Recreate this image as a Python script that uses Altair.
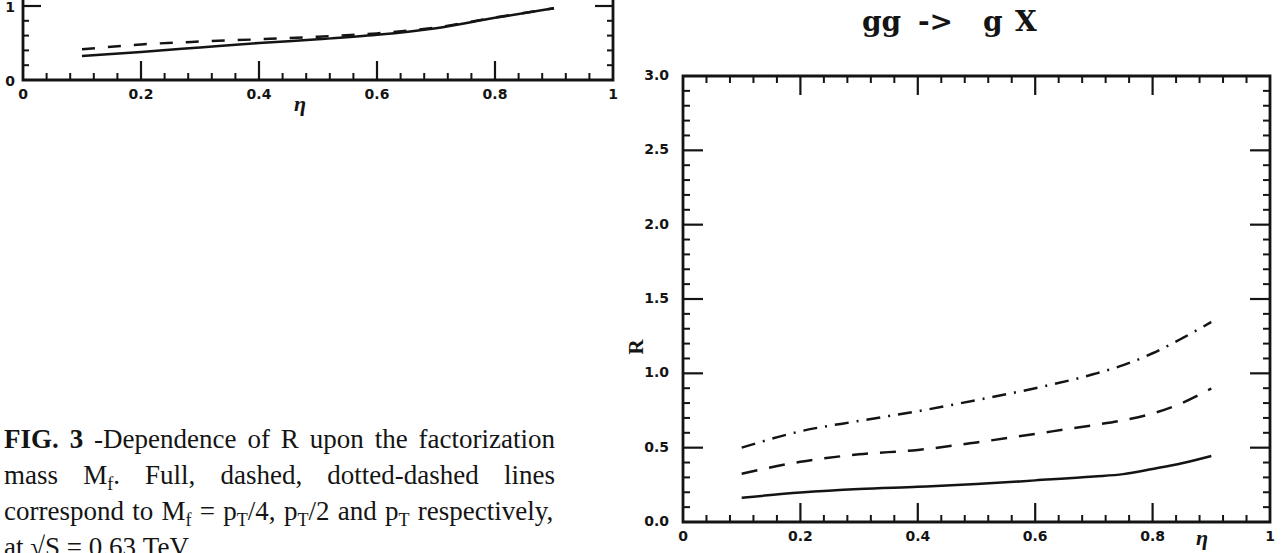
import altair as alt
import pandas as pd

# ---------------- values ----------------
# right panel  (gg -> g X):  R versus eta for three factorization masses
eta_main = [0.1, 0.2, 0.3, 0.4, 0.5, 0.6, 0.7, 0.75, 0.8, 0.85, 0.9]
r_full = [0.163, 0.198, 0.222, 0.237, 0.255, 0.280, 0.306, 0.322, 0.357, 0.395, 0.444]
r_dashed = [0.325, 0.405, 0.455, 0.485, 0.535, 0.593, 0.652, 0.685, 0.730, 0.800, 0.898]
r_dotdash = [0.500, 0.610, 0.680, 0.745, 0.820, 0.900, 0.995, 1.055, 1.135, 1.235, 1.345]

# upper-left panel (only its lower part is visible)
eta_prev = [0.1, 0.2, 0.3, 0.4, 0.5, 0.6, 0.7, 0.8, 0.9]
prev_full = [0.325, 0.38, 0.44, 0.50, 0.55, 0.61, 0.70, 0.84, 0.97]
prev_dashed = [0.415, 0.48, 0.52, 0.55, 0.585, 0.63, 0.71, 0.845, 0.97]

# ticks and tick labels
x_major = [0.0, 0.2, 0.4, 0.6, 0.8, 1.0]
x_labels = ["0", "0.2", "0.4", "0.6", "0.8", "1"]
x_minor = [0.04, 0.08, 0.12, 0.16, 0.24, 0.28, 0.32, 0.36, 0.44, 0.48, 0.52, 0.56,
           0.64, 0.68, 0.72, 0.76, 0.84, 0.88, 0.92, 0.96]
main_y_major = [0.5, 1.0, 1.5, 2.0, 2.5]
main_y_minor = [0.1, 0.2, 0.3, 0.4, 0.6, 0.7, 0.8, 0.9, 1.1, 1.2, 1.3, 1.4, 1.6, 1.7,
                1.8, 1.9, 2.1, 2.2, 2.3, 2.4, 2.6, 2.7, 2.8, 2.9]
main_y_label_vals = [0.0, 0.5, 1.0, 1.5, 2.0, 2.5, 3.0]
main_y_labels = ["0.0", "0.5", "1.0", "1.5", "2.0", "2.5", "3.0"]
prev_y_major = [1.0]
prev_y_minor = [0.2, 0.4, 0.6, 0.8]
prev_y_label_vals = [0.0, 1.0]
prev_y_labels = ["0", "1"]

title_parts = ["gg", "->", "g", "X"]

caption_lines = [
    [[("FIG.", "b")], [("3", "b")], [("-Dependence", "n")], [("of", "n")], [("R", "n")],
     [("upon", "n")], [("the", "n")], [("factorization", "n")]],
    [[("mass", "n")], [("M", "n"), ("f", "s"), (".", "n")], [("Full,", "n")], [("dashed,", "n")],
     [("dotted-dashed", "n")], [("lines", "n")]],
    [[("correspond", "n")], [("to", "n")], [("M", "n"), ("f", "s")], [("=", "n")],
     [("p", "n"), ("T", "s"), ("/4,", "n")], [("p", "n"), ("T", "s"), ("/2", "n")], [("and", "n")],
     [("p", "n"), ("T", "s")], [("respectively,", "n")]],
    [[("at", "n")], [("\u221aS", "n")], [("=", "n")], [("0.63", "n")], [("TeV", "n")]],
]

# ---------------- layout (pixels) ----------------
MAIN_XR = [683, 1270]
MAIN_YR = [522, 76]
PREV_XR = [23, 613]
PREV_YR = [80, 6]

INK = "#141414"
TICK_FONT = "DejaVu Sans"
SERIF = "Liberation Serif"


def scale(dom, rng):
    return alt.Scale(domain=dom, range=rng, nice=False, zero=False)


mx = scale([0, 1], MAIN_XR)
my = scale([0, 3], MAIN_YR)
px = scale([0, 1], PREV_XR)
py = scale([0, 1], PREV_YR)

layers = []


def line(xs, ys, xv, yv, dash=None, width=2.5):
    df = pd.DataFrame({"eta": xv, "r": yv})
    kw = dict(color=INK, strokeWidth=width, interpolate="monotone", strokeCap="butt")
    if dash:
        kw["strokeDash"] = dash
    return alt.Chart(df).mark_line(**kw).encode(
        x=alt.X("eta:Q", scale=xs, axis=None),
        y=alt.Y("r:Q", scale=ys, axis=None),
    )


def vticks(vals, xs, y0, length, width=2.0):
    df = pd.DataFrame({"v": vals})
    return alt.Chart(df).mark_rule(color=INK, strokeWidth=width).encode(
        x=alt.X("v:Q", scale=xs, axis=None), y=alt.value(y0), y2=alt.value(y0 + length)
    )


def hticks(vals, ys, x0, length, width=2.0):
    df = pd.DataFrame({"v": vals})
    return alt.Chart(df).mark_rule(color=INK, strokeWidth=width).encode(
        y=alt.Y("v:Q", scale=ys, axis=None), x=alt.value(x0), x2=alt.value(x0 + length)
    )


def frame(xs, ys, x0, x1, y0, y1):
    df = pd.DataFrame({"x0": [x0], "x1": [x1], "y0": [y0], "y1": [y1]})
    return alt.Chart(df).mark_rect(fillOpacity=0, stroke=INK, strokeWidth=2.8).encode(
        x=alt.X("x0:Q", scale=xs, axis=None), x2="x1:Q",
        y=alt.Y("y0:Q", scale=ys, axis=None), y2="y1:Q",
    )


def xlabels(vals, labs, xs, ypix, size=14):
    df = pd.DataFrame({"v": vals, "t": labs})
    return alt.Chart(df).mark_text(font=TICK_FONT, fontWeight="bold", fontSize=size,
                                   color=INK, align="center", baseline="middle").encode(
        x=alt.X("v:Q", scale=xs, axis=None), y=alt.value(ypix), text="t:N")


def ylabels(vals, labs, ys, xpix, size=14, dy=0):
    df = pd.DataFrame({"v": vals, "t": labs})
    return alt.Chart(df).mark_text(font=TICK_FONT, fontWeight="bold", fontSize=size, dy=dy,
                                   color=INK, align="right", baseline="middle").encode(
        y=alt.Y("v:Q", scale=ys, axis=None), x=alt.value(xpix), text="t:N")


def label(text, x, y, size, font=SERIF, weight="bold", style="normal", align="center",
          baseline="middle", angle=0):
    kw = dict(text=text, font=font, fontSize=size, fontWeight=weight, fontStyle=style,
              color=INK, align=align, baseline=baseline)
    if angle:
        kw["angle"] = angle
    return alt.Chart(pd.DataFrame({"a": [0]})).mark_text(**kw).encode(
        x=alt.value(x), y=alt.value(y))


# ---------------- right (main) panel ----------------
layers.append(line(mx, my, eta_main, r_full))
layers.append(line(mx, my, eta_main, r_dashed, dash=[16, 12]))
layers.append(line(mx, my, eta_main, r_dotdash, dash=[14, 8, 2, 8]))
layers.append(frame(mx, my, 0, 1, 0, 3))
b, t = MAIN_YR
l, r = MAIN_XR
layers += [
    vticks(x_major[1:-1], mx, b, -19, 2.2), vticks(x_minor, mx, b, -7),
    vticks(x_major[1:-1], mx, t, 19, 2.2), vticks(x_minor, mx, t, 7),
    hticks(main_y_major, my, l, 20, 2.2), hticks(main_y_minor, my, l, 7),
    hticks(main_y_major, my, r, -20, 2.2), hticks(main_y_minor, my, r, -7),
    xlabels(x_major, x_labels, mx, 537),
    ylabels(main_y_label_vals, main_y_labels, my, 669),
    label("\u03b7", 1202, 538, 22, style="italic"),
    label("R", 637, 347, 21, angle=270),
]
# title
for part, xp in zip(title_parts, [862, 918, 983, 1015]):
    layers.append(label(part, xp, 31, 28, font="DejaVu Serif", align="left", baseline="alphabetic"))

# ---------------- upper-left panel (cut off by the page) ----------------
layers.append(line(px, py, eta_prev, prev_full))
layers.append(line(px, py, eta_prev, prev_dashed, dash=[13, 13]))
layers.append(frame(px, py, 0, 1, 0, 1.4))
pb = PREV_YR[0]
pl, pr = PREV_XR
layers += [
    vticks(x_major[1:-1], px, pb, -19, 2.2), vticks(x_minor, px, pb, -7),
    hticks(prev_y_major, py, pl, 18, 2.2), hticks(prev_y_minor, py, pl, 6),
    hticks(prev_y_major, py, pr, -18, 2.2), hticks(prev_y_minor, py, pr, -6),
    xlabels(x_major, x_labels, px, 95),
    ylabels(prev_y_label_vals, prev_y_labels, py, 15, dy=2),
    label("\u03b7", 300, 104, 22, style="italic"),
]

# ---------------- caption (justified text block) ----------------
TW = {c: 500 for c in "abdghknopquvxy0123456789"}
TW.update({"a": 444, "c": 444, "e": 444, "z": 444, "f": 333, "r": 333, "i": 278, "j": 278,
           "l": 278, "t": 278, "m": 778, "s": 389, "w": 722,
           "D": 722, "F": 556, "M": 889, "R": 667, "S": 556, "T": 611, "V": 722, "I": 333,
           "G": 722, ".": 250, ",": 250, "-": 333, "/": 278, "=": 564, "\u221a": 549})
TWB = {"F": 611, "I": 389, "G": 778, ".": 250, "3": 500}
SIZE = {"n": 27, "b": 27, "s": 18}
LEFT, RIGHT = 4, 555
BASELINES = [448, 484, 520, 556]


def run_width(text, kind):
    table = TWB if kind == "b" else TW
    return sum(table.get(c, 500) for c in text) * SIZE[kind] / 1000.0


rows = []
for i, words in enumerate(caption_lines):
    widths = [sum(run_width(tx, k) for tx, k in w) for w in words]
    gaps = len(words) - 1
    if i < len(caption_lines) - 1:
        space = (RIGHT - LEFT - sum(widths)) / gaps
    else:
        space = 27 * 0.25
    xcur = LEFT
    for w, ww in zip(words, widths):
        xx = xcur
        for tx, k in w:
            rows.append({"t": tx, "k": k, "x": xx, "y": BASELINES[i] + (6 if k == "s" else 0)})
            xx += run_width(tx, k)
        xcur += ww + space
cap = pd.DataFrame(rows)

for kind, weight in [("n", "normal"), ("b", "bold"), ("s", "normal")]:
    layers.append(
        alt.Chart(cap[cap.k == kind]).mark_text(font=SERIF, fontSize=SIZE[kind], fontWeight=weight,
                                                color=INK, align="left", baseline="alphabetic").encode(
            x=alt.X("x:Q", scale=None, axis=None), y=alt.Y("y:Q", scale=None, axis=None), text="t:N")
    )

chart = (
    alt.layer(*layers)
    .resolve_scale(x="independent", y="independent")
    .properties(width=1284, height=553, padding=0, autosize=alt.AutoSizeParams(type="none"),
                background="white")
    .configure_view(strokeWidth=0)
)

chart.save("out.html", embed_options={"renderer": "svg", "actions": False})
